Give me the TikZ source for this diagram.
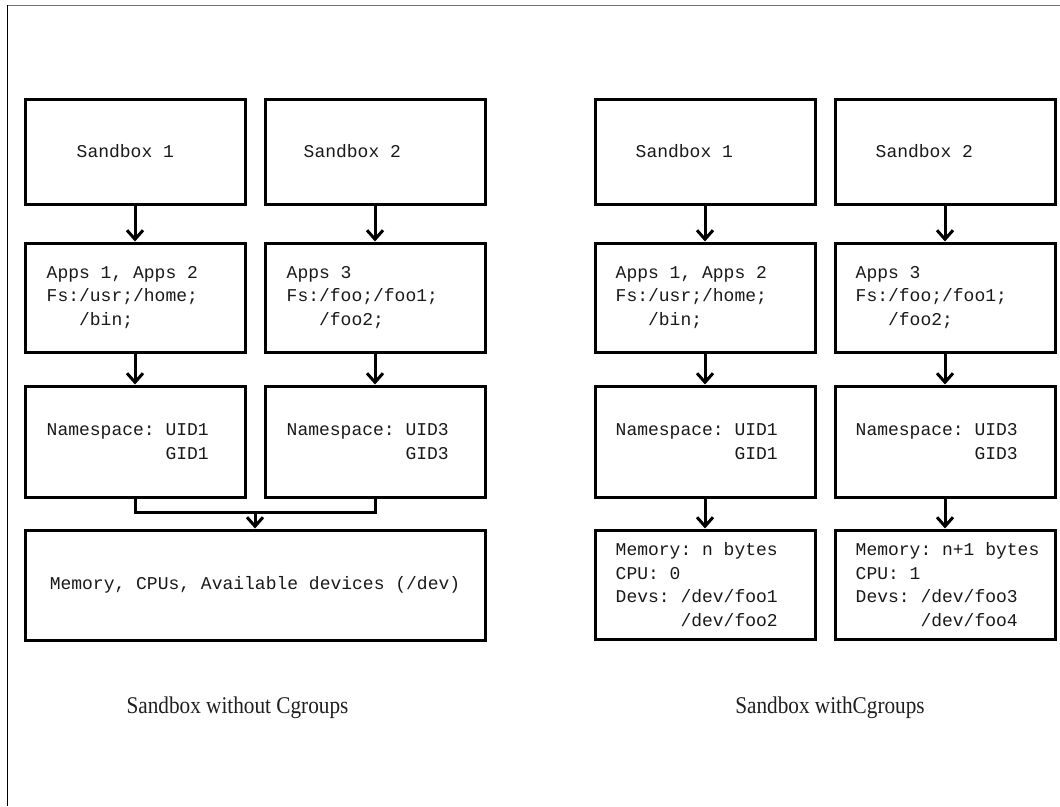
\documentclass[tikz,border=0pt]{standalone}
\usepackage{fontspec}
\setmainfont{Liberation Serif}
\setmonofont{Liberation Mono}
\usetikzlibrary{arrows.meta}

\tikzset{
  box/.style={draw=black, line width=3pt, inner sep=0pt, line join=miter},
  txt/.style={anchor=west, inner sep=0pt, align=left, text=black!90,
    font=\ttfamily\fontsize{18}{23.5}\selectfont},
  arr/.style={line width=3pt, -{Straight Barb[length=9pt,width=16pt]}},
  link/.style={line width=3pt},
  caption/.style={anchor=base, inner sep=0pt, text=black!88,
    font=\fontsize{24}{28}\selectfont},
}
\newcommand{\ind}[1]{\hphantom{#1}}

\begin{document}
\begin{tikzpicture}[x=1pt, y=-1pt]
\useasboundingbox (0,0) rectangle (1060,806);

% outer frame (top and left edges)
\draw[line width=1pt, black!55] (7,5) -- (1060,5);
\draw[line width=1pt, black] (7,5) -- (7,806);

% ---------------- without cgroups ----------------
\node[box, minimum width=220pt, minimum height=105pt] (ls1) at (135,151.5) {};
\node[box, minimum width=220pt, minimum height=105pt] (ls2) at (375,151.5) {};
\node[box, minimum width=220pt, minimum height=109pt] (la1) at (135,297.5) {};
\node[box, minimum width=220pt, minimum height=109pt] (la2) at (375,297.5) {};
\node[box, minimum width=220pt, minimum height=111pt] (ln1) at (135,441.5) {};
\node[box, minimum width=220pt, minimum height=111pt] (ln2) at (375,441.5) {};
\node[box, minimum width=460pt, minimum height=110pt] (mem) at (255,585) {};

\node[txt, xshift=53pt] (ls1t) at (ls1.west) {Sandbox 1};
\node[txt, xshift=40pt] (ls2t) at (ls2.west) {Sandbox 2};
\node[txt, xshift=23pt] (la1t) at (la1.west) {Apps 1, Apps 2\\Fs:/usr;/home;\\\ind{Fs:}/bin;};
\node[txt, xshift=23pt] (la2t) at (la2.west) {Apps 3\\Fs:/foo;/foo1;\\\ind{Fs:}/foo2;};
\node[txt, xshift=23pt] (ln1t) at (ln1.west) {Namespace: UID1\\\ind{Namespace: }GID1};
\node[txt, xshift=23pt] (ln2t) at (ln2.west) {Namespace: UID3\\\ind{Namespace: }GID3};
\node[txt, anchor=center] (memt) at (mem.center) {Memory, CPUs, Available devices (/dev)};

\draw[arr] (ls1) -- (la1);
\draw[arr] (ls2) -- (la2);
\draw[arr] (la1) -- (ln1);
\draw[arr] (la2) -- (ln2);

\coordinate (join) at (255,512);
\draw[link] (ln1.south) -- (ln1.south |- join) -- (ln2.south |- join) -- (ln2.south);
\draw[arr] (join) -- (mem.north);

\node[caption] (capl) at (237.5,713) {\scalebox{0.885}[1]{Sandbox without Cgroups}};

% ---------------- with cgroups ----------------
\node[box, minimum width=220pt, minimum height=105pt] (rs1) at (705,151.5) {};
\node[box, minimum width=220pt, minimum height=105pt] (rs2) at (945,151.5) {};
\node[box, minimum width=220pt, minimum height=109pt] (ra1) at (705,297.5) {};
\node[box, minimum width=220pt, minimum height=109pt] (ra2) at (945,297.5) {};
\node[box, minimum width=220pt, minimum height=111pt] (rn1) at (705,441.5) {};
\node[box, minimum width=220pt, minimum height=111pt] (rn2) at (945,441.5) {};
\node[box, minimum width=220pt, minimum height=109pt] (rm1) at (705,584.5) {};
\node[box, minimum width=220pt, minimum height=109pt] (rm2) at (945,584.5) {};

\node[txt, xshift=42pt] (rs1t) at (rs1.west) {Sandbox 1};
\node[txt, xshift=42pt] (rs2t) at (rs2.west) {Sandbox 2};
\node[txt, xshift=22pt] (ra1t) at (ra1.west) {Apps 1, Apps 2\\Fs:/usr;/home;\\\ind{Fs:}/bin;};
\node[txt, xshift=22pt] (ra2t) at (ra2.west) {Apps 3\\Fs:/foo;/foo1;\\\ind{Fs:}/foo2;};
\node[txt, xshift=22pt] (rn1t) at (rn1.west) {Namespace: UID1\\\ind{Namespace: }GID1};
\node[txt, xshift=22pt] (rn2t) at (rn2.west) {Namespace: UID3\\\ind{Namespace: }GID3};
\node[txt, xshift=22pt] (rm1t) at (rm1.west) {Memory: n bytes\\CPU: 0\\Devs: /dev/foo1\\\ind{Devs: }/dev/foo2};
\node[txt, xshift=22pt] (rm2t) at (rm2.west) {Memory: n+1 bytes\\CPU: 1\\Devs: /dev/foo3\\\ind{Devs: }/dev/foo4};

\draw[arr] (rs1) -- (ra1);
\draw[arr] (rs2) -- (ra2);
\draw[arr] (ra1) -- (rn1);
\draw[arr] (ra2) -- (rn2);
\draw[arr] (rn1) -- (rm1);
\draw[arr] (rn2) -- (rm2);

\node[caption] (capr) at (830,713) {\scalebox{0.885}[1]{Sandbox withCgroups}};
\end{tikzpicture}
\end{document}
